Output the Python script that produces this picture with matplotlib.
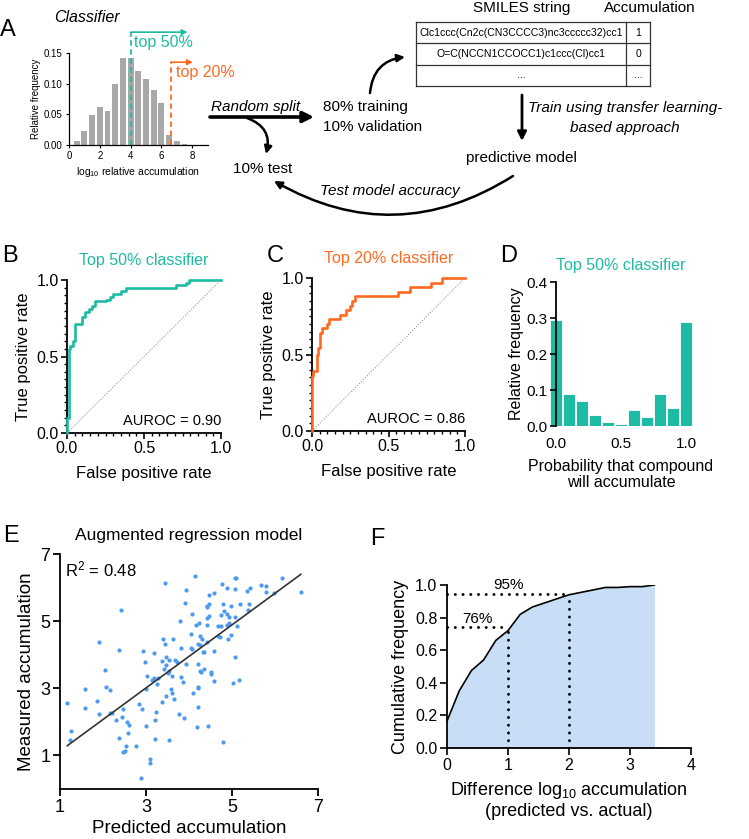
import matplotlib
matplotlib.use('Agg')
import matplotlib.pyplot as plt
import numpy as np
from matplotlib.ticker import MultipleLocator

plt.rcParams['font.family'] = ['Liberation Sans', 'DejaVu Sans']
plt.rcParams['mathtext.fontset'] = 'custom'
plt.rcParams['mathtext.rm'] = 'Liberation Sans'
plt.rcParams['mathtext.it'] = 'Liberation Sans:italic'

W, H = 749, 839
TEAL = '#1DBBA3'
ORANGE = '#FF6A21'
GREY = '#A8A8A8'
BLUE = '#4C9BEF'
FILL = '#C8DDF6'

# ---- panel A histogram
hist_x = [0.5, 1.0, 1.5, 2.0, 2.5, 3.0, 3.5, 4.0, 4.5, 5.0, 5.5, 6.0, 6.5, 7.0, 7.5]
hist_freq = [0.0065, 0.023, 0.049, 0.062, 0.056, 0.099, 0.142, 0.142, 0.121,
             0.107, 0.09, 0.069, 0.017, 0.006, 0.002]
cut_50 = 4.0
cut_20 = 6.6
smiles = ['Clc1ccc(Cn2c(CN3CCCC3)nc3ccccc32)cc1', 'O=C(NCCN1CCOCC1)c1ccc(Cl)cc1', '...']
accum = ['1', '0', '...']

# ---- panel B/C ROC curves (corner points)
fpr_b = [0, 0, 0.01, 0.02, 0.04, 0.05, 0.10, 0.12, 0.14, 0.16, 0.18, 0.25, 0.28,
         0.30, 0.35, 0.38, 0.71, 0.77, 0.79, 1.0]
tpr_b = [0, 0.10, 0.55, 0.57, 0.60, 0.71, 0.76, 0.79, 0.81, 0.83, 0.86, 0.87, 0.89,
         0.91, 0.93, 0.95, 0.965, 0.98, 1.0, 1.0]
fpr_c = [0, 0, 0.005, 0.03, 0.04, 0.05, 0.065, 0.10, 0.11, 0.18, 0.22, 0.25, 0.26,
         0.28, 0.56, 0.64, 0.78, 0.85, 1.0]
tpr_c = [0, 0.36, 0.39, 0.50, 0.54, 0.64, 0.67, 0.70, 0.73, 0.76, 0.79, 0.82, 0.85,
         0.88, 0.91, 0.94, 0.97, 1.0, 1.0]
auroc_b = 0.90
auroc_c = 0.86

# ---- panel D probability histogram
prob_x = [0.0, 0.1, 0.2, 0.3, 0.4, 0.5, 0.6, 0.7, 0.8, 0.9, 1.0]
prob_freq = [0.295, 0.088, 0.069, 0.031, 0.012, 0.006, 0.044, 0.025, 0.088, 0.049, 0.288]

# ---- panel E scatter
pred_e = [4.14, 3.44, 3.94, 4.47, 4.57, 4.76, 4.88, 5.07, 5.10, 5.08, 5.35, 5.42, 5.67,
          5.79, 5.79, 5.98, 6.16, 6.60, 3.90, 2.41, 4.47, 4.42, 4.42, 4.80, 4.97, 5.19,
          5.40, 5.38, 4.07, 4.75, 4.82, 4.88, 4.93, 5.06, 4.42, 4.47, 4.16, 4.24, 4.42,
          4.67, 4.74, 4.88, 4.93, 5.12, 3.78, 4.05, 4.25, 4.68, 4.71, 4.98, 4.91, 4.31,
          4.43, 3.39, 3.62, 3.44, 1.90, 2.38, 2.93, 3.19, 3.82, 4.05, 4.07, 4.22, 4.26,
          4.32, 4.36, 4.58, 2.97, 3.46, 3.53, 3.38, 3.67, 3.71, 3.94, 4.22, 5.06, 2.05,
          3.47, 3.41, 3.53, 3.50, 3.60, 3.82, 4.25, 4.29, 4.36, 4.51, 4.51, 3.02, 3.14,
          3.18, 3.29, 3.26, 3.86, 4.58, 5.03, 5.17, 2.08, 2.17, 1.57, 2.99, 3.59, 4.20,
          4.21, 3.60, 3.47, 3.64, 3.38, 4.09, 1.17, 1.85, 2.84, 1.59, 2.46, 2.90, 1.90,
          2.16, 2.20, 3.24, 4.20, 3.77, 2.44, 3.88, 2.30, 2.56, 3.21, 2.61, 2.99, 4.18,
          4.45, 1.25, 2.57, 1.23, 2.38, 3.22, 3.53, 4.78, 2.53, 2.76, 2.50, 2.47, 3.09,
          3.09, 2.88]
meas_e = [6.33, 6.15, 5.94, 5.78, 5.85, 6.12, 6.00, 6.30, 6.30, 5.95, 5.89, 5.99, 6.08,
          6.05, 5.87, 5.83, 6.29, 5.86, 5.55, 5.34, 5.50, 5.45, 5.41, 5.52, 5.45, 5.50,
          5.50, 5.34, 5.20, 5.17, 5.30, 5.22, 5.12, 5.12, 5.08, 5.14, 4.89, 4.93, 4.89,
          4.86, 4.86, 4.89, 4.95, 4.86, 5.00, 4.63, 4.57, 4.57, 4.53, 4.58, 4.46, 4.46,
          4.38, 4.46, 4.47, 4.31, 4.39, 4.14, 4.10, 4.05, 4.21, 4.21, 4.16, 4.32, 4.28,
          4.08, 4.07, 4.11, 3.77, 3.93, 3.84, 3.82, 3.83, 3.78, 3.71, 3.71, 3.92, 3.54,
          3.68, 3.58, 3.51, 3.46, 3.36, 3.34, 3.52, 3.50, 3.58, 3.50, 3.42, 3.38, 3.25,
          3.30, 3.31, 3.14, 3.19, 3.22, 3.16, 3.25, 3.03, 2.95, 2.97, 2.98, 2.99, 3.04,
          3.00, 2.85, 2.78, 2.67, 2.59, 2.85, 2.56, 2.61, 2.54, 2.42, 2.39, 2.37, 2.24,
          2.27, 2.27, 2.28, 2.45, 2.23, 2.14, 2.12, 2.06, 2.00, 2.06, 1.90, 1.88, 1.86,
          1.87, 1.72, 1.66, 1.45, 1.51, 1.50, 1.47, 1.39, 1.29, 1.27, 1.13, 1.10, 0.88,
          0.78, 0.33]
fit_slope = 0.94
fit_icpt = 0.19
fit_range = [1.17, 6.6]
r2 = 0.48

# ---- panel F cumulative frequency
diff_x = [0, 0.2, 0.4, 0.6, 0.8, 1.0, 1.2, 1.4, 1.6, 1.8, 2.0, 2.2, 2.4, 2.6, 2.8,
          3.0, 3.2, 3.4]
cum_freq = [0.165, 0.35, 0.475, 0.54, 0.66, 0.72, 0.82, 0.865, 0.89, 0.915, 0.94,
            0.955, 0.97, 0.985, 0.985, 0.99, 0.99, 1.0]
mark_x = [1, 2]
mark_y = [0.74, 0.945]
mark_lab = ['76%', '95%']


def rect(l, t, r, b):
    return [l / W, 1 - b / H, (r - l) / W, (b - t) / H]


def style(ax, fs=11):
    for s in ['top', 'right']:
        ax.spines[s].set_visible(False)
    for s in ['left', 'bottom']:
        ax.spines[s].set_linewidth(1.3)
    ax.tick_params(direction='out', width=1.2, length=4, labelsize=fs, pad=2)


fig = plt.figure(figsize=(W / 100, H / 100), dpi=100)

# A: histogram
ax = fig.add_axes(rect(69, 53, 207.6, 145))
ax.bar(hist_x, hist_freq, width=0.38, color=GREY)
ax.set_xlim(0, 9)
ax.set_ylim(0, 0.15)
ax.set_xticks([0, 2, 4, 6, 8])
ax.set_yticks([0, 0.05, 0.10, 0.15])
ax.set_yticklabels(['0.00', '0.05', '0.10', '0.15'])
style(ax, 7)
ax.spines['left'].set_linewidth(0.9)
ax.spines['bottom'].set_linewidth(0.9)
ax.tick_params(width=0.8, length=2.5, labelsize=7)
ax.set_ylabel('Relative frequency', fontsize=7, labelpad=2)
ax.set_xlabel('log$_{10}$ relative accumulation', fontsize=7.5, labelpad=3)
ax.plot([cut_50, cut_50], [0, 0.184], ls=(0, (3, 2)), color=TEAL, lw=1.3, clip_on=False)
ax.annotate('', xy=(7.7, 0.184), xytext=(cut_50, 0.184), annotation_clip=False,
            arrowprops=dict(arrowstyle='-|>', color=TEAL, lw=1.2, mutation_scale=8,
                            shrinkA=0, shrinkB=0))
ax.plot([cut_20, cut_20], [0, 0.135], ls=(0, (3, 2)), color=ORANGE, lw=1.3, clip_on=False)
ax.annotate('', xy=(8.05, 0.135), xytext=(cut_20, 0.135), annotation_clip=False,
            arrowprops=dict(arrowstyle='-|>', color=ORANGE, lw=1.2, mutation_scale=8,
                            shrinkA=0, shrinkB=0))

# B, C: ROC curves
for r, fpr, tpr, col, title, auc in [((67, 280, 221, 433), fpr_b, tpr_b, TEAL, 'Top 50% classifier', auroc_b),
                                     ((312, 278, 465, 431), fpr_c, tpr_c, ORANGE, 'Top 20% classifier', auroc_c)]:
    ax = fig.add_axes(rect(*r))
    ax.plot([0, 1], [0, 1], ls=(0, (1, 1.5)), color='#9A9A9A', lw=0.8)
    ax.plot(fpr, tpr, drawstyle='steps-post', color=col, lw=1.9, clip_on=False, zorder=3)
    ax.set_xlim(0, 1)
    ax.set_ylim(0, 1)
    ax.set_xticks([0, 0.5, 1.0])
    ax.set_yticks([0, 0.5, 1.0])
    ax.xaxis.set_minor_locator(MultipleLocator(0.05))
    ax.yaxis.set_minor_locator(MultipleLocator(0.05))
    style(ax, 11.5)
    ax.tick_params(which='minor', direction='out', length=2.5, width=1.0)
    ax.set_xlabel('False positive rate', fontsize=12, labelpad=7)
    ax.set_ylabel('True positive rate', fontsize=12, labelpad=4)
    ax.set_title(title, color=col, fontsize=11.5, pad=11)
    ax.text(1.0, 0.03, 'AUROC = %.2f' % auc, ha='right', va='bottom', fontsize=10.5)

# D: probability histogram
ax = fig.add_axes(rect(549.5, 282, 692.5, 426))
ax.bar(prob_x, prob_freq, width=0.095, color=TEAL, edgecolor='white', linewidth=0.6)
ax.set_xlim(-0.05, 1.05)
ax.set_ylim(0, 0.4)
ax.spines['left'].set_position(('data', 0))
style(ax, 11)
ax.spines['bottom'].set_visible(False)
ax.spines['left'].set_zorder(4)
ax.set_xticks([0, 0.5, 1.0])
ax.set_xticklabels(['0.0', '0.5', '1.0'])
ax.set_yticks([0, 0.1, 0.2, 0.3, 0.4])
ax.tick_params(axis='x', length=0, pad=8)
ax.set_xlabel('Probability that compound\nwill accumulate', fontsize=11.5, labelpad=6,
              linespacing=1.05)
ax.set_ylabel('Relative frequency', fontsize=11.5, labelpad=2)
ax.set_title('Top 50% classifier', color=TEAL, fontsize=11.5, pad=9)

# E: regression scatter
ax = fig.add_axes(rect(60, 554, 318, 789))
ax.scatter(pred_e, meas_e, s=9, color=BLUE, linewidths=0, zorder=2)
lx = np.array(fit_range)
ax.plot(lx, fit_slope * lx + fit_icpt, color='#333333', lw=1.2, zorder=3)
ax.set_xlim(1, 7)
ax.set_ylim(0, 7)
ax.set_xticks([1, 3, 5, 7])
ax.set_yticks([1, 3, 5, 7])
style(ax, 13)
ax.tick_params(length=5, width=1.3)
ax.set_xlabel('Predicted accumulation', fontsize=13.5, labelpad=3)
ax.set_ylabel('Measured accumulation', fontsize=13.5, labelpad=4)
ax.set_title('Augmented regression model', fontsize=12.5, pad=10)
ax.text(1.12, 6.85, 'R$^2$ = %.2f' % r2, ha='left', va='top', fontsize=12)

# F: cumulative frequency
ax = fig.add_axes(rect(447, 585, 691, 748))
ax.fill_between(diff_x, cum_freq, 0, color=FILL, lw=0)
ax.plot(diff_x, cum_freq, color='black', lw=1.2)
for mx, my, lab in zip(mark_x, mark_y, mark_lab):
    ax.plot([0, mx], [my, my], ls=(0, (0.05, 2.6)), color='black', lw=2.1,
            dash_capstyle='round')
    ax.plot([mx, mx], [0, my], ls=(0, (0.05, 2.6)), color='black', lw=2.1,
            dash_capstyle='round')
    ax.text(mx * 0.5 + 0.0, my + 0.01, lab, ha='center', va='bottom', fontsize=11)
ax.set_xlim(0, 4)
ax.set_ylim(0, 1)
ax.set_xticks([0, 1, 2, 3, 4])
ax.set_yticks([0, 0.2, 0.4, 0.6, 0.8, 1.0])
ax.set_yticklabels(['0.0', '0.2', '0.4', '0.6', '0.8', '1.0'])
style(ax, 11.5)
ax.tick_params(length=5)
ax.set_xlabel('Difference log$_{10}$ accumulation\n(predicted vs. actual)', fontsize=13,
              labelpad=5, linespacing=1.2)
ax.set_ylabel('Cumulative frequency', fontsize=13, labelpad=4)

# overlay for schematic of panel A and panel letters
ov = fig.add_axes([0, 0, 1, 1])
ov.set_xlim(0, W)
ov.set_ylim(H, 0)
ov.axis('off')
ov.patch.set_alpha(0)

for lab, x, y in [('A', 8, 30), ('B', 10, 256), ('C', 275, 256), ('D', 509, 256),
                  ('E', 11, 536), ('F', 377, 539)]:
    ov.text(x, y, lab, fontsize=17, ha='center', va='center')

ov.text(87, 17, 'Classifier', style='italic', fontsize=11.5, ha='center', va='center')
ov.text(134, 43, 'top 50%', color=TEAL, fontsize=11.5, ha='left', va='center')
ov.text(176, 72, 'top 20%', color=ORANGE, fontsize=11.5, ha='left', va='center')

ov.text(256, 107, 'Random split', style='italic', fontsize=11, ha='center', va='center')
ov.annotate('', xy=(314, 117), xytext=(210, 117),
            arrowprops=dict(arrowstyle='-|>', color='black', lw=2.6, mutation_scale=16,
                            shrinkA=0, shrinkB=0))
ov.annotate('', xy=(266, 154), xytext=(247, 118),
            arrowprops=dict(arrowstyle='-|>', color='black', lw=1.8, mutation_scale=11,
                            shrinkA=0, shrinkB=0, connectionstyle='arc3,rad=-0.45'))
ov.text(263, 169, '10% test', fontsize=11, ha='center', va='center')
ov.text(323, 107, '80% training', fontsize=11, ha='left', va='center')
ov.text(323, 127, '10% validation', fontsize=11, ha='left', va='center')
ov.annotate('', xy=(405, 57), xytext=(370, 93),
            arrowprops=dict(arrowstyle='-|>', color='black', lw=1.8, mutation_scale=11,
                            shrinkA=0, shrinkB=0, connectionstyle='arc3,rad=-0.4'))

# SMILES table
tl, tr, tdiv = 416, 650, 626
rows_y = [22, 43, 65, 86]
ov.text(522, 8, 'SMILES string', fontsize=11, ha='center', va='center')
ov.text(650, 8, 'Accumulation', fontsize=11, ha='center', va='center')
for y in rows_y:
    ov.plot([tl, tr], [y, y], color='#333333', lw=0.9)
for x in [tl, tdiv, tr]:
    ov.plot([x, x], [rows_y[0], rows_y[-1]], color='#333333', lw=0.9)
for i, (s, a) in enumerate(zip(smiles, accum)):
    yc = (rows_y[i] + rows_y[i + 1]) / 2
    ov.text((tl + tdiv) / 2, yc, s, fontsize=7.6, ha='center', va='center')
    ov.text((tdiv + tr) / 2, yc, a, fontsize=7.6, ha='center', va='center')

ov.annotate('', xy=(522, 141), xytext=(522, 95),
            arrowprops=dict(arrowstyle='-|>', color='black', lw=2.0, mutation_scale=13,
                            shrinkA=0, shrinkB=0))
ov.text(625, 108, 'Train using transfer learning-', style='italic', fontsize=11,
        ha='center', va='center')
ov.text(625, 128, 'based approach', style='italic', fontsize=11, ha='center', va='center')
ov.text(521, 158, 'predictive model', fontsize=11, ha='center', va='center')
ov.annotate('', xy=(274, 181), xytext=(513, 176),
            arrowprops=dict(arrowstyle='-|>', color='black', lw=1.8, mutation_scale=11,
                            shrinkA=0, shrinkB=0, connectionstyle='arc3,rad=-0.3'))
ov.text(390, 191, 'Test model accuracy', style='italic', fontsize=11, ha='center',
        va='center')

fig.savefig('out.png', dpi=100)
